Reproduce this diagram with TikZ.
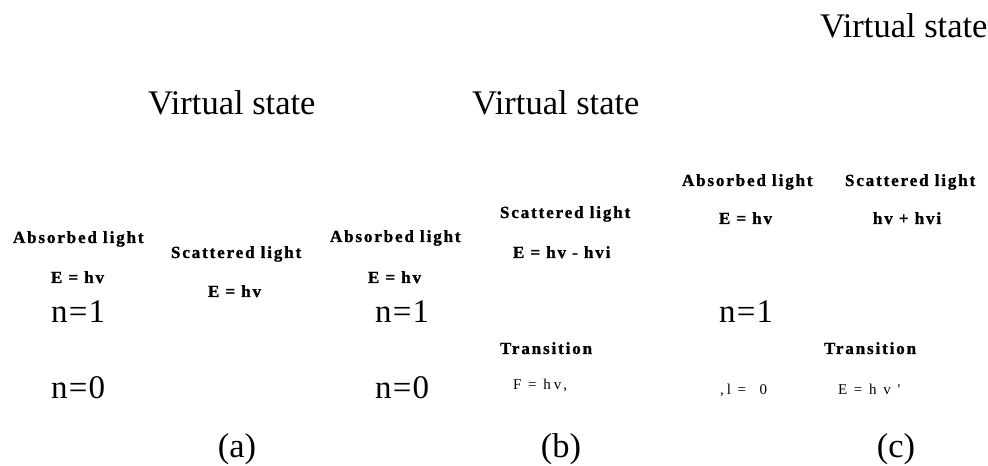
\documentclass[tikz,border=0pt]{standalone}
\usepackage{fontspec}
\setmainfont{Liberation Serif}
\newfontfamily\spacedfont[LetterSpace=11,BoldFeatures={FakeBold=1.2}]{Liberation Serif}
\newfontfamily\levelfont[LetterSpace=4]{Liberation Serif}
\newfontfamily\smallfont[LetterSpace=20]{Liberation Serif}
\begin{document}
\begin{tikzpicture}[x=1bp,y=-1bp,
  every node/.style={inner sep=0pt, outer sep=0pt, anchor=base west},
  title/.style={font=\fontsize{34.5bp}{38bp}\selectfont},
  level/.style={font=\levelfont\fontsize{33bp}{36bp}\selectfont},
  lbl/.style={font=\spacedfont\bfseries\fontsize{17bp}{19bp}\selectfont},
  note/.style={font=\smallfont\fontsize{15bp}{17bp}\selectfont}]
\useasboundingbox (0,0) rectangle (988,466);
% titles
\node[title] (vsC) at (820,38) {Virtual state};
\node[title] (vsA) at (148,115) {Virtual state};
\node[title] (vsB) at (472,115) {Virtual state};
% panel (a)
\node[lbl] (absA) at (13,243) {Absorbed light};
\node[lbl] (scaA) at (171,258) {Scattered light};
\node[lbl] (eAabs) at (51,283) {E = hv};
\node[lbl] (eAsca) at (208,297) {E = hv};
\node[level] (n1A) at (51,323) {n=1};
\node[level] (n0A) at (51,398) {n=0};
% panel (b)
\node[lbl] (absB) at (330,242) {Absorbed light};
\node[lbl] (scaB) at (500,218) {Scattered light};
\node[lbl] (eBsca) at (513,258) {E = hv - hvi};
\node[lbl] (eBabs) at (368,283) {E = hv};
\node[level] (n1B) at (375,323) {n=1};
\node[level] (n0B) at (375,398) {n=0};
\node[lbl] (trB) at (500,354) {Transition};
\node[note] (fB) at (513,390) {F = hv,};
% panel (c)
\node[lbl] (absC) at (682,186) {Absorbed light};
\node[lbl] (scaC) at (845,186) {Scattered light};
\node[lbl] (eCabs) at (719,224) {E = hv};
\node[lbl] (eCsca) at (873,224) {hv + hvi};
\node[level] (n1C) at (719,323) {n=1};
\node[lbl] (trC) at (824,354) {Transition};
\node[note] (l0C) at (720,395) {,l~=~~0};
\node[note] (eC) at (838,395) {E~=~h~v~'};
% captions
\node[title, anchor=base] (capA) at (237,457) {(a)};
\node[title, anchor=base] (capB) at (561,457) {(b)};
\node[title, anchor=base] (capC) at (896,457) {(c)};
\end{tikzpicture}
\end{document}
